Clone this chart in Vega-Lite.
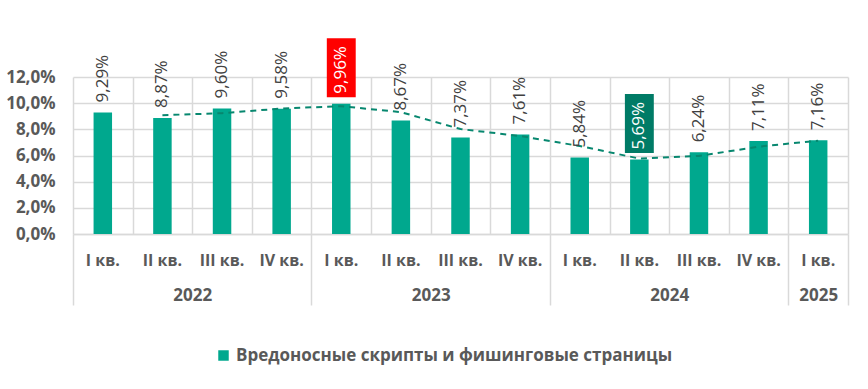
{
  "$schema": "https://vega.github.io/schema/vega-lite/v6.json",
  "width": 775,
  "height": 157,
  "autosize": {"type": "none"},
  "padding": {"left": 73, "top": 77, "right": 20, "bottom": 155},
  "background": "white",
  "config": {
    "locale": {"number": {"decimal": ",", "thousands": " ", "grouping": [3], "currency": ["", " ₽"]}},
    "view": {"stroke": null},
    "font": "Open Sans",
    "axisY": {
      "title": null, "domain": false, "ticks": false, "grid": true,
      "gridColor": "#D9D9D9", "gridWidth": 1.5, "tickCount": 6,
      "values": [0, 0.02, 0.04, 0.06, 0.08, 0.1, 0.12],
      "format": ".1%", "labelFontSize": 17, "labelFontWeight": "bold",
      "labelColor": "#595959", "labelPadding": 18, "labelOverlap": false
    }
  },
  "data": {
    "values": [
      {"period": "2022-I", "year": "2022", "v": 0.0929, "trend": null, "mark": ""},
      {"period": "2022-II", "year": "2022", "v": 0.0887, "trend": 0.0908, "mark": ""},
      {"period": "2022-III", "year": "2022", "v": 0.0960, "trend": 0.09235, "mark": ""},
      {"period": "2022-IV", "year": "2022", "v": 0.0958, "trend": 0.0959, "mark": ""},
      {"period": "2023-I", "year": "2023", "v": 0.0996, "trend": 0.0977, "mark": "max"},
      {"period": "2023-II", "year": "2023", "v": 0.0867, "trend": 0.09315, "mark": ""},
      {"period": "2023-III", "year": "2023", "v": 0.0737, "trend": 0.0802, "mark": ""},
      {"period": "2023-IV", "year": "2023", "v": 0.0761, "trend": 0.0749, "mark": ""},
      {"period": "2024-I", "year": "2024", "v": 0.0584, "trend": 0.06725, "mark": ""},
      {"period": "2024-II", "year": "2024", "v": 0.0569, "trend": 0.05765, "mark": "min"},
      {"period": "2024-III", "year": "2024", "v": 0.0624, "trend": 0.05965, "mark": ""},
      {"period": "2024-IV", "year": "2024", "v": 0.0711, "trend": 0.06675, "mark": ""},
      {"period": "2025-I", "year": "2025", "v": 0.0716, "trend": 0.07135, "mark": ""}
    ]
  },
  "layer": [
    {
      "encoding": {
        "x": {
          "field": "period", "type": "nominal", "sort": null,
          "scale": {"paddingInner": 0.69, "paddingOuter": 0.345},
          "axis": {
            "orient": "bottom", "title": null, "domain": false, "ticks": false, "grid": false,
            "labelAngle": 0, "labelPadding": 26, "labelBaseline": "middle",
            "labelExpr": "split(datum.value,'-')[1] + ' кв.'",
            "labelFontSize": 16, "labelFontWeight": "bold", "labelColor": "#595959"
          }
        },
        "y": {
          "field": "v", "type": "quantitative",
          "scale": {"domain": [0, 0.12], "nice": false}
        }
      },
      "layer": [
        {
          "mark": {"type": "bar"},
          "encoding": {
            "color": {
              "datum": "Вредоносные скрипты и фишинговые страницы",
              "scale": {"range": ["#00A88E"]},
              "legend": {
                "orient": "none", "legendX": 142, "legendY": 270, "title": null,
                "symbolType": "square", "symbolSize": 110, "symbolStrokeWidth": 0,
                "labelFontSize": 17, "labelFontWeight": "bold", "labelColor": "#595959",
                "labelLimit": 0
              }
            }
          }
        },
        {
          "mark": {"type": "line", "strokeDash": [6, 5], "strokeWidth": 2, "color": "#07876F"},
          "encoding": {
            "x": {"field": "period", "type": "nominal", "sort": null, "bandPosition": 0.5},
            "y": {"field": "trend", "type": "quantitative"}
          }
        },
        {
          "transform": [{"filter": "datum.mark != ''"}],
          "mark": {"type": "point", "shape": "M-0.49,-1L0.49,-1L0.49,1L-0.49,1Z", "size": 3481, "filled": true, "opacity": 1, "yOffset": -36, "strokeWidth": 0},
          "encoding": {
            "fill": {"condition": {"test": "datum.mark == 'max'", "value": "#FF0000"}, "value": "#007B66"}
          }
        },
        {
          "mark": {"type": "text", "angle": 270, "align": "left", "baseline": "middle", "dx": 10, "fontSize": 17},
          "encoding": {
            "text": {"field": "v", "type": "quantitative", "format": ".2%"},
            "color": {"condition": {"test": "datum.mark != ''", "value": "white"}, "value": "#404040"}
          }
        }
      ]
    },
    {
      "data": {"values": [{"pos": 0}, {"pos": 13}]},
      "mark": {"type": "point", "opacity": 0},
      "encoding": {
        "x": {
          "field": "pos", "type": "quantitative",
          "scale": {"domain": [0, 13], "nice": false, "zero": false},
          "axis": {
            "orient": "bottom", "title": null,
            "values": [0, 1, 2, 3, 4, 5, 6, 7, 8, 9, 10, 11, 12, 12.5, 13],
            "domain": true, "domainColor": "#D9D9D9", "domainWidth": 1.5,
            "grid": true, "gridColor": "#D9D9D9", "gridWidth": 1.5,
            "gridOpacity": {"condition": {"test": "datum.value == 12.5", "value": 0}, "value": 1},
            "ticks": true, "tickSize": 71, "tickColor": "#D9D9D9", "tickWidth": 1.5,
            "tickOpacity": {"condition": {"test": "indexof([0,4,8,12,13], datum.value) >= 0", "value": 1}, "value": 0},
            "labelExpr": "datum.value == 2 ? '2022' : datum.value == 6 ? '2023' : datum.value == 10 ? '2024' : datum.value == 12.5 ? '2025' : ''",
            "labelPadding": -10, "labelBaseline": "middle", "labelFontSize": 17,
            "labelFontWeight": "bold", "labelColor": "#595959",
            "labelOverlap": false, "labelFlush": false, "labelBound": false
          }
        }
      }
    }
  ],
  "resolve": {"scale": {"x": "independent"}, "axis": {"x": "independent"}}
}
